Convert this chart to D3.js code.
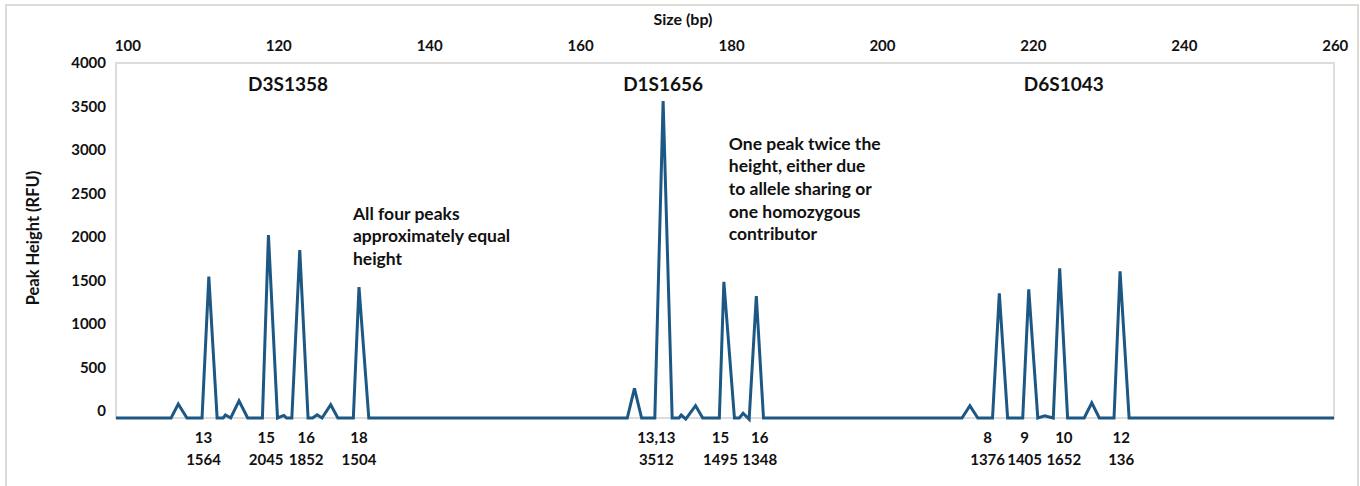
<!DOCTYPE html>
<html>
<head>
<meta charset="utf-8">
<script src="https://cdn.jsdelivr.net/npm/d3@7"></script>
<style>
  body { margin: 0; background: #fff; }
  svg text { font-family: Lato, "Open Sans", sans-serif; font-weight: 700; fill: #111; }
</style>
</head>
<body>
<svg id="chart" width="1360" height="486"></svg>
<script>
"use strict";

// electropherogram trace: fragment size (bp) and peak height (RFU)
const traceSize = [
  98.5, 105.8, 106.75, 107.9, 109.9, 110.8, 111.9, 112.7, 113.0, 113.7, 114.8, 115.95,
  117.9, 118.7, 119.9, 120.75, 121.1, 121.8, 122.85, 123.95, 124.55, 125.15, 125.8,
  126.95, 127.9, 129.95, 130.7, 132.0,
  166.25, 167.2, 168.15, 169.9, 171.0, 172.2, 173.1, 173.4, 174.0, 175.3, 176.25,
  178.45, 179.05, 180.45, 181.1, 181.6, 182.4, 183.35, 184.3,
  210.6, 211.65, 212.7, 214.65, 215.55, 216.65, 218.65, 219.45, 220.65, 221.6, 221.9,
  222.7, 223.55, 224.6, 226.8, 227.8, 228.8, 230.75, 231.55, 232.75, 259.9
];
const traceRfu = [
  -80, -80, 80, -80, -80, 1544, -80, -80, -46, -80, 118, -80,
  -80, 2023, -80, -50, -80, -80, 1851, -80, -80, -43, -80,
  72, -80, -80, 1425, -80,
  -80, 261, -80, -80, 3563, -80, -80, -46, -92, 61, -80,
  -80, 1486, -80, -80, -26, -96, 1322, -80,
  -80, 61, -80, -80, 1353, -80, -80, 1399, -80, -54, -62,
  -80, 1640, -80, -80, 95, -80, -80, 1606, -80, -80
];

// loci
const locusNames  = ["D3S1358", "D1S1656", "D6S1043"];
const locusCenter = [121.3, 171.0, 224.1];

// allele calls under the peaks
const alleleNames  = ["13", "15", "16", "18", "13,13", "15", "16", "8", "9", "10", "12"];
const alleleHeight = ["1564", "2045", "1852", "1504", "3512", "1495", "1348", "1376", "1405", "1652", "136"];
const alleleSize   = [110.1, 118.4, 123.7, 130.7, 170.1, 178.6, 183.8, 214.0, 218.9, 224.1, 231.7];

// axes
const sizeTicks = [100, 120, 140, 160, 180, 200, 220, 240, 260];
const rfuTicks  = [0, 500, 1000, 1500, 2000, 2500, 3000, 3500, 4000];

// notes
const noteEqual = ["All four peaks", "approximately equal", "height"];
const noteTwice = ["One peak twice the", "height, either due", "to allele sharing or", "one homozygous", "contributor"];

const margin = { top: 63, right: 26, bottom: 68, left: 116 },
      width  = 1360 - margin.left - margin.right,
      height = 486 - margin.top - margin.bottom;

const x = d3.scaleLinear().domain([98.5, 259.9]).range([0, width]);
const y = d3.scaleLinear().domain([-80, 4000]).range([height, 0]);

const svg = d3.select("#chart");

// outer frame
svg.append("rect")
    .attr("x", 6).attr("y", 5)
    .attr("width", 1352).attr("height", 490)
    .attr("fill", "none")
    .attr("stroke", "#dedbd6")
    .attr("stroke-width", 2);

svg.append("text")
    .attr("x", 683).attr("y", 25)
    .attr("text-anchor", "middle")
    .style("font-size", "16px")
    .text("Size (bp)");

const g = svg.append("g")
    .attr("transform", "translate(" + margin.left + "," + margin.top + ")");

// plot area border
g.append("rect")
    .attr("width", width).attr("height", height)
    .attr("fill", "none")
    .attr("stroke", "#dcdcdc")
    .attr("stroke-width", 2);

// top axis (size)
g.append("g")
    .call(d3.axisTop(x).tickValues(sizeTicks).tickSize(0).tickPadding(12))
    .call(a => a.select(".domain").remove())
    .selectAll("text")
      .style("font-size", "15px");

// left axis (rfu)
g.append("g")
    .call(d3.axisLeft(y).tickValues(rfuTicks).tickFormat(d3.format("d")).tickSize(0).tickPadding(10))
    .call(a => a.select(".domain").remove())
    .selectAll("text")
      .style("font-size", "15px");

svg.append("text")
    .attr("transform", "translate(39,238) rotate(-90)")
    .attr("text-anchor", "middle")
    .style("font-size", "16.5px")
    .text("Peak Height (RFU)");

// the trace
const line = d3.line()
    .x(i => x(traceSize[i]))
    .y(i => y(traceRfu[i]));

g.append("path")
    .datum(d3.range(traceSize.length))
    .attr("d", line)
    .attr("fill", "none")
    .attr("stroke", "#1d5784")
    .attr("stroke-width", 3)
    .attr("stroke-linejoin", "miter");

// locus names
g.selectAll(".locus")
    .data(locusNames)
  .enter().append("text")
    .attr("class", "locus")
    .attr("x", (d, i) => x(locusCenter[i]))
    .attr("y", y(3680))
    .attr("text-anchor", "middle")
    .style("font-size", "19px")
    .text(d => d);

// notes
function note(lines, size, rfu) {
  g.append("text")
      .attr("x", x(size))
      .attr("y", y(rfu))
      .style("font-size", "17.5px")
    .selectAll("tspan")
      .data(lines)
    .enter().append("tspan")
      .attr("x", x(size))
      .attr("dy", (d, i) => i ? 22.7 : 0)
      .text(d => d);
}
note(noteEqual, 129.9, 2200);
note(noteTwice, 179.7, 3005);

// allele labels, pushed apart a little where they collide
const pos = alleleSize.map(s => x(s));

const labels = g.selectAll(".allele")
    .data(alleleNames)
  .enter().append("text")
    .attr("class", "allele")
    .attr("text-anchor", "middle")
    .attr("y", height + 25)
    .style("font-size", "15px");
labels.append("tspan")
    .attr("x", (d, i) => pos[i])
    .text(d => d);
labels.append("tspan")
    .attr("x", (d, i) => pos[i])
    .attr("dy", 22)
    .text((d, i) => alleleHeight[i]);

const half = labels.nodes().map(n => n.getBBox().width / 2);
for (let k = 0; k < 4; k++) {
  for (let i = 1; i < pos.length; i++) {
    const gap = (pos[i] - half[i]) - (pos[i - 1] + half[i - 1]) - 2;
    if (gap < 0) {
      pos[i - 1] += gap / 2;
      pos[i] -= gap / 2;
    }
  }
}
labels.each(function(d, i) {
  d3.select(this).selectAll("tspan").attr("x", pos[i]);
});
</script>
</body>
</html>
